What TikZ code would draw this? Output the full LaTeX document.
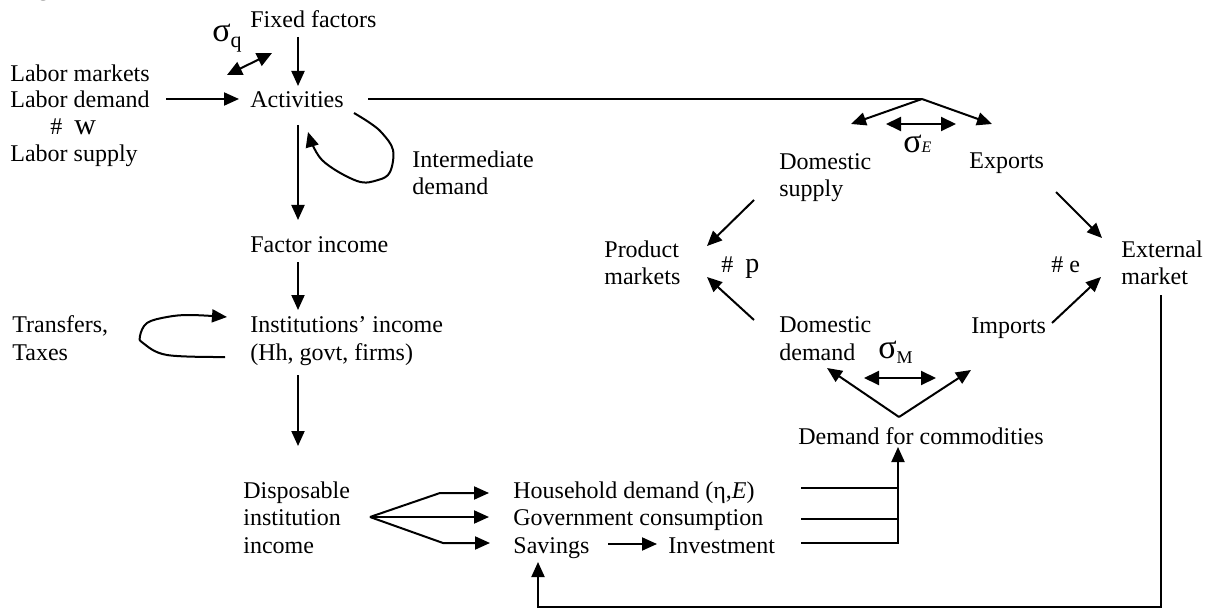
\documentclass[tikz,border=0pt]{standalone}
\usepackage{fontspec}
\setmainfont{Liberation Serif}
\usetikzlibrary{arrows.meta}
\tikzset{
  lbl/.style={inner sep=0pt, anchor=base west, align=left, font=\fontsize{12}{13.75}\selectfont},
  sg/.style={inner sep=0pt, anchor=base west, font=\fontsize{17}{17}\selectfont},
  ln/.style={line width=1pt},
  arr/.style={ln, -{Triangle[length=7.5pt,width=6.5pt]}},
  dbl/.style={ln, {Triangle[length=7.5pt,width=7pt]}-{Triangle[length=7.5pt,width=7pt]}},
}
\begin{document}
\begin{tikzpicture}[x=0.5pt,y=-0.5pt]
\useasboundingbox (0,0) rectangle (1209,609);
% ---------- texts (base = baseline of the last line) ----------
\node[lbl] (fig) at (16,-4) {\textbf{Figure}};
\node[lbl] (fix) at (250,28) {Fixed factors};
\node[sg] (sq) at (212,42) {σ\raisebox{-3pt}{\fontsize{11}{11}\selectfont q}};
\node[lbl] (lmk) at (10,82) {Labor markets};
\node[lbl] (ldm) at (10,108) {Labor demand};
\node[lbl] (hw) at (50,135) {\#\hspace{6pt}{\fontsize{15}{15}\selectfont w}};
\node[lbl] (lsp) at (10,162) {Labor supply};
\node[lbl] (act) at (250,108) {Activities};
\node[lbl] (imd) at (412,195) {Intermediate\\demand};
\node[lbl] (fin) at (250,252) {Factor income};
\node[lbl] (iin) at (250,360) {Institutions’ income\\(Hh, govt, firms)};
\node[lbl] (trf) at (12,360) {Transfers,\\Taxes};
\node[lbl] (dii) at (243,553) {Disposable\\institution\\income};
\node[lbl] (hhd) at (513,498) {Household demand (η,\textit{E})};
\node[lbl] (gvc) at (513,525) {Government consumption};
\node[lbl] (sav) at (513,553) {Savings};
\node[lbl] (inv) at (668,553) {Investment};
\node[lbl] (dsu) at (779,197) {Domestic\\supply};
\node[lbl] (exp) at (969,169) {Exports};
\node[sg] (se) at (903,153) {σ{\fontsize{8}{8}\selectfont\itshape E}};
\node[lbl] (pmk) at (604,285) {Product\\markets};
\node[lbl] (hp) at (721,272) {\#\hspace{6pt}{\fontsize{14}{14}\selectfont p}};
\node[lbl] (he) at (1051,272) {\# e};
\node[lbl] (emk) at (1121,285) {External\\market};
\node[lbl] (ddm) at (779,360) {Domestic\\demand};
\node[lbl] (imp) at (971,333) {Imports};
\node[sg] (sm) at (878,358) {σ\raisebox{-2.5pt}{\fontsize{9}{9}\selectfont M}};
\node[lbl] (dfc) at (798,444) {Demand for commodities};
% ---------- connector end points ----------
\coordinate (fixS) at (298,37);   \coordinate (actN) at (298,86);
\coordinate (sqA) at (227,75);    \coordinate (sqB) at (272,53);
\coordinate (ldmE) at (166,99);   \coordinate (actW) at (239,99);
\coordinate (actE) at (368,99);   \coordinate (jn) at (922,99);
\coordinate (dsuT) at (851,124);  \coordinate (expT) at (992,124);
\coordinate (seA) at (886,124);   \coordinate (seB) at (956,124);
\coordinate (dsuS) at (754,200);  \coordinate (pmkU) at (707,246);
\coordinate (expS) at (1056,192); \coordinate (emkU) at (1102,238);
\coordinate (ddmS) at (754,320);  \coordinate (pmkL) at (707,277);
\coordinate (impS) at (1052,323); \coordinate (emkL) at (1101,277);
\coordinate (smA) at (864,378);   \coordinate (smB) at (936,378);
\coordinate (apex) at (899,417);  \coordinate (ddmT) at (827,368); \coordinate (impT) at (971,370);
\coordinate (dfcS) at (898,447);
\coordinate (l1a) at (801,488); \coordinate (l1b) at (898,488);
\coordinate (l2a) at (801,519); \coordinate (l2b) at (898,519);
\coordinate (l3a) at (801,543); \coordinate (l3b) at (898,543);
\coordinate (actS) at (298,125); \coordinate (finN) at (298,220);
\coordinate (finS) at (298,262); \coordinate (iinN) at (298,310);
\coordinate (iinS) at (298,375); \coordinate (diiN) at (298,446);
\coordinate (fan) at (370,517);
\coordinate (f1) at (440,493); \coordinate (hhdW) at (489,493);
\coordinate (gvcW) at (489,517);
\coordinate (f3) at (443,543); \coordinate (savW) at (490,543);
\coordinate (savE) at (608,544); \coordinate (invW) at (657,544);
\coordinate (emkS) at (1161,295); \coordinate (r1) at (1161,607);
\coordinate (r2) at (538,607); \coordinate (savS) at (538,562);
% ---------- connectors ----------
\draw[arr] (fixS) -- (actN);
\draw[dbl] (sqA) -- (sqB);
\draw[arr] (ldmE) -- (actW);
\draw[ln] (actE) -- (jn);
\draw[arr] (jn) -- (dsuT);
\draw[arr] (jn) -- (expT);
\draw[dbl] (seA) -- (seB);
\draw[arr] (dsuS) -- (pmkU);
\draw[arr] (expS) -- (emkU);
\draw[arr] (ddmS) -- (pmkL);
\draw[arr] (impS) -- (emkL);
\draw[dbl] (smA) -- (smB);
\draw[arr] (apex) -- (ddmT);
\draw[arr] (apex) -- (impT);
\draw[ln] (l1a) -- (l1b);
\draw[ln] (l2a) -- (l2b);
\draw[arr] (l3a) -- (l3b) -- (dfcS);
\draw[arr] (actS) -- (finN);
\draw[arr] (finS) -- (iinN);
\draw[arr] (iinS) -- (diiN);
\draw[arr] (fan) -- (f1) -- (hhdW);
\draw[arr] (fan) -- (gvcW);
\draw[arr] (fan) -- (f3) -- (savW);
\draw[arr] (savE) -- (invW);
\draw[arr] (emkS) -- (r1) -- (r2) -- (savS);
% loops
\draw[arr] plot[smooth, tension=0.6] coordinates {(354,113) (370,123) (382,133) (393,150) (390,172) (378,180) (357,181) (322,160) (308,132)};
\draw[arr] plot[smooth, tension=0.6] coordinates {(225,357) (167,355) (143,343) (140,336) (147,323) (167,317) (190,315) (227,317)};
\end{tikzpicture}
\end{document}
